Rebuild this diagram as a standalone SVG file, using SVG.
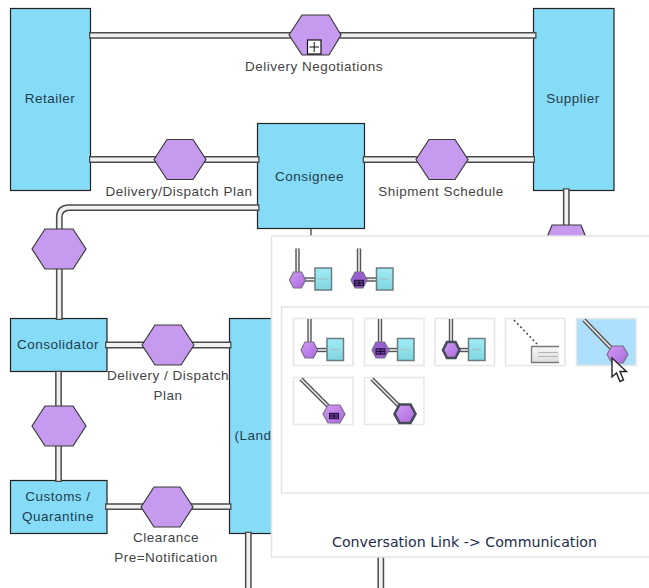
<svg xmlns="http://www.w3.org/2000/svg" xmlns:xlink="http://www.w3.org/1999/xlink" width="649" height="588" viewBox="0 0 649 588">
<style>
text{font-family:"Liberation Sans",Arial,sans-serif}
.n{fill:#86dbf6;stroke:#222;stroke-width:1.2}
.h{fill:#c69bef;stroke:#3a3a3a;stroke-width:1.2}
.o{fill:none;stroke:#4a4a4a;stroke-width:6.8}
.i{fill:none;stroke:#f1f1f1;stroke-width:3.8}
.nt{font-size:13.5px;fill:#1f3f50;text-anchor:middle;letter-spacing:.5px}
.lt{font-size:13.5px;fill:#444;text-anchor:middle;letter-spacing:.5px}
.pan{fill:#fff;stroke:#e4e4e4;stroke-width:1.5}
.tile{fill:#fff;stroke:#e6e6e6;stroke-width:1.5}
.sel{fill:#aee0fd;stroke:#e6e6e6;stroke-width:1.5}
.ho{fill:none;stroke:#555;stroke-width:4.4}
.hi{fill:none;stroke:#eee;stroke-width:1.6}
.ih{fill:url(#pg);stroke:#7a6f8a;stroke-width:1.2}
.id{fill:#9a5fce;stroke:#7a6f8a;stroke-width:1.2}
.ik{fill:url(#pg);stroke:#454a58;stroke-width:2.6}
.ir{fill:url(#cg);stroke:#6e7c82;stroke-width:1.5}
.ib{stroke:#a5c4c8;stroke-width:1.5}
</style>
<defs>
<linearGradient id="pg" x1="0" y1="0" x2="1" y2="1"><stop offset="0" stop-color="#d49cf5"/><stop offset="1" stop-color="#a968dc"/></linearGradient>
<linearGradient id="cg" x1="0" y1="0" x2="0" y2="1"><stop offset="0" stop-color="#a0ecf6"/><stop offset="1" stop-color="#7fd6e0"/></linearGradient>
<linearGradient id="gg" x1="0" y1="0" x2="0" y2="1"><stop offset="0" stop-color="#f6f6f6"/><stop offset="1" stop-color="#dedede"/></linearGradient>
<g id="icoL"><path class="ho" d="M0 0V24"/><path class="hi" d="M0 0V24"/><path class="ho" d="M6 31H20"/><path class="hi" d="M6 31H20"/><rect class="ir" x="17.500" y="19.500" width="16.500" height="22"/><path class="ib" d="M21 30.500H30"/></g>
<g id="mk"><rect x="-4.500" y="-2.700" width="9" height="5.400" fill="#6a3a96" stroke="#1c1030"/><path d="M0-2.700V2.700M-4.500 0H4.500" stroke="#1c1030" fill="none"/></g>
</defs>
<rect width="649" height="588" fill="#fff"/>
<g id="retailer"><rect class="n" x="10.500" y="8.500" width="80" height="182"/><text class="nt" x="50" y="103">Retailer</text></g>
<g id="consignee"><rect class="n" x="257.500" y="123.500" width="107" height="105"/><text class="nt" x="309.500" y="181">Consignee</text></g>
<g id="supplier"><rect class="n" x="533.500" y="8.500" width="80.500" height="182"/><text class="nt" x="573" y="103">Supplier</text></g>
<g id="consolidator"><rect class="n" x="10.500" y="318.500" width="96.500" height="53"/><text class="nt" x="58" y="349">Consolidator</text></g>
<g id="customs"><rect class="n" x="10.500" y="480.500" width="96.500" height="53"/><text class="nt" x="58" y="501">Customs /</text><text class="nt" x="58" y="521">Quarantine</text></g>
<g id="land"><rect class="n" x="229.500" y="318.500" width="60" height="215"/><text class="nt" x="234.500" y="440" style="text-anchor:start">(Land</text></g>
<g id="connectors">
<path class="o" d="M89 35.300H536.500M89 159.500H259.500M362.700 159.500H535M566.300 188.300V230M259.500 207.700H69.300Q59.300 207.700 59.300 217.700V320M58.500 370.700V482M105 345H231.500M105 506.700H231.500"/>
<path class="i" d="M90.300 35.300H535.200M90.300 159.500H258.200M364 159.500H533.700M566.300 189.600V230M258.200 207.700H69.300Q59.300 207.700 59.300 217.700V318.700M58.500 372V480.700M106.300 345H230.200M106.300 506.700H230.200"/>
<path class="o" d="M248.300 531.700V588M380.800 550V588"/>
<path class="i" d="M248.300 533V588M380.800 550V588"/>
<path d="M311 228V237" stroke="#333" stroke-width="1.200"/>
</g>
<g id="delivery-negotiations"><path class="h" d="M289 35L302 15H329L341 35L329 55H302Z"/><rect x="307.500" y="40" width="13.500" height="14" fill="#fff" stroke="#111" stroke-width="1.200"/><path d="M309.500 47H319M314.200 42V52" stroke="#111" fill="none"/><text class="lt" x="314" y="71">Delivery Negotiations</text></g>
<g id="delivery-dispatch-plan"><path class="h" d="M154 159.500L167 139.500H193L206 159.500L193 179.500H167Z"/><text class="lt" x="179" y="196">Delivery/Dispatch Plan</text></g>
<g id="shipment-schedule"><path class="h" d="M416 159.500L429 139.500H455L468 159.500L455 179.500H429Z"/><text class="lt" x="441" y="196">Shipment Schedule</text></g>
<g id="conv-left"><path class="h" d="M32 249L45 229H73L86 249L73 269H45Z"/></g>
<g id="conv-supplier"><path class="h" d="M546 240L552 225H581L587 240Z"/></g>
<g id="delivery-dispatch-plan-2"><path class="h" d="M142 345L155 325H181L194 345L181 365H155Z"/><text class="lt" x="168" y="380">Delivery / Dispatch</text><text class="lt" x="168" y="400">Plan</text></g>
<g id="conv-customs"><path class="h" d="M32 426L45 406H73L86 426L73 446H45Z"/></g>
<g id="clearance"><path class="h" d="M141 507L154 487H180L193 507L180 527H154Z"/><text class="lt" x="166" y="542">Clearance</text><text class="lt" x="166" y="562">Pre=Notification</text></g>
<g id="popup">
<rect class="pan" x="271.500" y="236" width="380" height="321"/>
<rect class="pan" x="281.500" y="307" width="370" height="186"/>
<g id="top-icon-1"><use xlink:href="#icoL" x="297.500" y="248.500"/><path class="ih" d="M289.500 280L293.500 272H301.500L305.500 280L301.500 288H293.500Z"/></g>
<g id="top-icon-2"><use xlink:href="#icoL" x="359" y="248.500"/><path class="id" d="M351 280L355 272H363L367 280L363 288H355Z"/><use xlink:href="#mk" x="359" y="283"/></g>
<rect class="tile" x="293.500" y="318.500" width="59.500" height="47"/>
<rect class="tile" x="364.500" y="318.500" width="59.500" height="47"/>
<rect class="tile" x="435" y="318.500" width="59.500" height="47"/>
<rect class="tile" x="505.500" y="318.500" width="59.500" height="47"/>
<rect class="sel" x="576.500" y="318.500" width="59.500" height="47"/>
<rect class="tile" x="293.500" y="377.500" width="59.500" height="47"/>
<rect class="tile" x="364.500" y="377.500" width="59.500" height="47"/>
<g id="tile-1"><use xlink:href="#icoL" x="309.500" y="319"/><path class="ih" d="M301 350L305 342H313.500L317.500 350L313.500 358H305Z"/></g>
<g id="tile-2"><use xlink:href="#icoL" x="380" y="319"/><path class="id" d="M372 350L376 342H384.500L389 350L384.500 358H376Z"/><use xlink:href="#mk" x="380.500" y="351.500"/></g>
<g id="tile-3"><use xlink:href="#icoL" x="451" y="319"/><path class="ik" d="M443 350L447 342H455.500L459.500 350L455.500 358H447Z"/></g>
<g id="tile-4"><path d="M514 320L537 344" stroke="#444" stroke-width="1.500" stroke-dasharray="2 2.500" fill="none"/><path d="M559 346.500H531.500V362.500H559" fill="url(#gg)" stroke="#777" stroke-width="1.300"/><path d="M538 352.500H558M538 356.500H558" stroke="#b5b5b5" stroke-width="1.200"/></g>
<g id="tile-5"><path class="ho" d="M584 320L611 348"/><path class="hi" d="M584 320L611 348"/><path class="ih" d="M607 354.500L612 346H623L628 354.500L623 363H612Z"/></g>
<g id="tile-6"><path class="ho" d="M301 379L329 407"/><path class="hi" d="M301 379L329 407"/><path class="ih" d="M323 414L328 405H340L345 414L340 423H328Z"/><use xlink:href="#mk" x="334" y="416"/></g>
<g id="tile-7"><path class="ho" d="M372 379L400 407"/><path class="hi" d="M372 379L400 407"/><path class="ik" d="M394.500 414L399.500 404.500H410.500L415.500 414L410.500 423H399.500Z"/></g>
<path id="cursor" d="M612 358V377L616.500 373L620 381.500L623.500 380L620 371.500L626.500 371.500Z" fill="#fff" stroke="#222" stroke-width="1.400"/>
<text x="464.500" y="547" text-anchor="middle" font-size="14" fill="#232c4c" style="font-family:'DejaVu Sans',sans-serif" textLength="265" lengthAdjust="spacingAndGlyphs">Conversation Link -&gt; Communication</text>
</g>
</svg>
